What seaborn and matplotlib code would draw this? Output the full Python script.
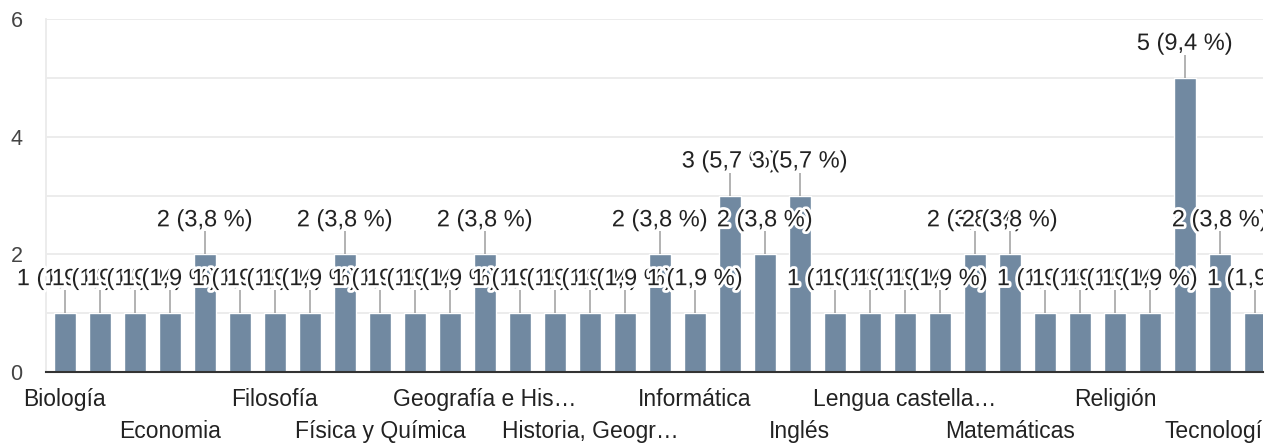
import matplotlib
matplotlib.use("Agg")
import numpy as np
import pandas as pd
import seaborn as sns
import matplotlib.pyplot as plt
from matplotlib import patheffects as pe
from matplotlib.transforms import Bbox

# ---- data ----
counts = [1, 1, 1, 1, 2, 1, 1, 1, 2, 1,
          1, 1, 2, 1, 1, 1, 1, 2, 1, 3,
          2, 3, 1, 1, 1, 1, 2, 2, 1, 1,
          1, 1, 5, 2, 1]
TOTAL_RESPONSES = 53
tick_labels = ["Biología", "Economia", "Filosofía", "Física y Química",
               "Geografía e His…", "Historia, Geogr…", "Informática", "Inglés",
               "Lengua castella…", "Matemáticas", "Religión", "Tecnología"]
TICK_STEP = 3

BAR_COLOR = "#7189a1"

sns.set_theme(style="white")
plt.rcParams["font.family"] = ["Liberation Sans", "DejaVu Sans"]

W, H = 1279, 446
fig = plt.figure(figsize=(W / 100, H / 100), dpi=100)
ax = fig.add_axes([46 / W, 1 - 372 / H, (1263 - 46) / W, (372 - 19) / H])

df = pd.DataFrame({"idx": np.arange(len(counts)), "count": counts})
sns.barplot(data=df, x="idx", y="count", color=BAR_COLOR, saturation=1,
            width=0.63, ax=ax, zorder=2)

ax.set_xlim(-0.54, 34.23)
ax.set_ylim(0, 6)

# clip region: everything right of the plot area edge is cut off
clip = Bbox.from_extents(0, 0, 1263, H)

px_per_unit = (372 - 19) / 6.0
for i, c in enumerate(counts):
    ax.vlines(i, c, c + 23 / px_per_unit, color="#9e9e9e", lw=1.1, zorder=3)
for i, c in enumerate(counts):
    pct = c / TOTAL_RESPONSES * 100
    label = f"{c} ({pct:.1f} %)".replace(".", ",")
    t = ax.annotate(label, xy=(i, c), xytext=(0, 34), textcoords="offset pixels",
                    ha="center", va="center", fontsize=17, color="#222222",
                    path_effects=[pe.withStroke(linewidth=4, foreground="white")],
                    zorder=4, annotation_clip=False)
    t.set_clip_on(True)
    t.set_clip_box(clip)

# y axis
ax.set_yticks([0, 2, 4, 6])
ax.set_yticks([1, 3, 5], minor=True)
ax.grid(axis="y", which="both", color="#ebebeb", lw=1.3)
ax.set_axisbelow(True)
ax.tick_params(axis="y", which="both", length=0, pad=17, labelsize=15.5,
               labelcolor="#444444")

# x axis
ax.set_xticks(np.arange(0, len(counts), TICK_STEP), tick_labels)
ax.tick_params(axis="x", length=0, labelsize=16.5, labelcolor="#222222")
for k, tk in enumerate(ax.xaxis.get_major_ticks()):
    tk.set_pad(11.5 if k % 2 == 0 else 34.5)
    tk.label1.set_clip_on(True)
    tk.label1.set_clip_box(clip)
ax.set_xlabel("")
ax.set_ylabel("")

for s in ["top", "right"]:
    ax.spines[s].set_visible(False)
ax.spines["left"].set_color("#ebebeb")
ax.spines["left"].set_linewidth(1.3)
ax.spines["bottom"].set_color("#333333")
ax.spines["bottom"].set_linewidth(1.5)
ax.spines["bottom"].set_zorder(5)

fig.savefig("out.png", dpi=100)
